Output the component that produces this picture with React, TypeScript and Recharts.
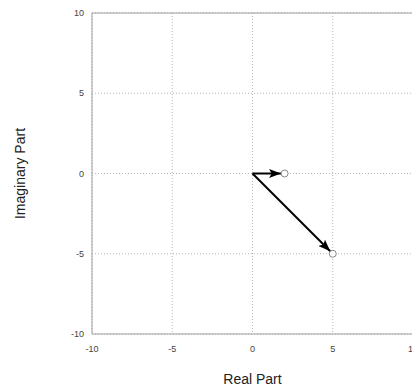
import React from 'react'
import { LineChart, Line, XAxis, YAxis, CartesianGrid, ReferenceLine } from 'recharts'

// complex numbers drawn as vectors from the origin
const vectorA = [{ x: 0, y: 0 }, { x: 2, y: 0 }]
const vectorB = [{ x: 0, y: 0 }, { x: 5, y: -5 }]
const axisTicks = [-10, -5, 0, 5, 10]

const tickStyle = { fontSize: 9, fill: '#444', fontFamily: 'Liberation Sans, Arial, sans-serif' }

const EndDot = (props: any) => {
  const { cx, cy, index } = props
  if (index === 0) return <g key={`d${index}`} />
  return <circle key={`d${index}`} cx={cx} cy={cy} r={3.5} fill="#fff" stroke="#888" strokeWidth={1} />
}

const YTitle = (props: any) => {
  const vb = props.viewBox
  const x = vb.x + 20
  const y = vb.y + vb.height / 2
  return (
    <text x={x} y={y} transform={`rotate(-90, ${x}, ${y})`} textAnchor="middle" dominantBaseline="central"
      fontSize={14} fill="#222" fontFamily="Liberation Sans, Arial, sans-serif">
      Imaginary Part
    </text>
  )
}

export default function App() {
  return (
    <div style={{ position: 'absolute', left: 0, top: 0, width: 412, height: 392, overflow: 'hidden', background: '#fff' }}>
      <svg width={0} height={0} style={{ position: 'absolute' }}>
        <defs>
          <marker id="arrowHead" viewBox="0 0 12 9" markerWidth={12} markerHeight={9} refX={15.5} refY={4.5}
            orient="auto" markerUnits="userSpaceOnUse">
            <path d="M0,0 L12,4.5 L0,9 L2.5,4.5 z" fill="#000" />
          </marker>
        </defs>
      </svg>
      <LineChart width={420} height={392} margin={{ top: 13, right: 7, left: 0, bottom: 0 }}>
        <CartesianGrid stroke="#b8b8b8" strokeDasharray="1 2" />
        <XAxis type="number" dataKey="x" domain={[-10, 10]} ticks={axisTicks} allowDataOverflow
          tickLine={false} stroke="#a0a0a0" tick={tickStyle} tickMargin={6} height={58}
          label={{ value: 'Real Part', position: 'insideBottom', offset: 8, fontSize: 14, fill: '#222',
            fontFamily: 'Liberation Sans, Arial, sans-serif' }} />
        <YAxis type="number" dataKey="y" domain={[-10, 10]} ticks={axisTicks} allowDataOverflow
          tickLine={false} stroke="#a0a0a0" tick={tickStyle} width={92}
          label={{ content: YTitle }} />
        <ReferenceLine y={10} stroke="#a0a0a0" strokeDasharray="" />
        <Line data={vectorA} dataKey="y" stroke="#000" strokeWidth={2} dot={EndDot} activeDot={false}
          markerEnd="url(#arrowHead)" isAnimationActive={false} />
        <Line data={vectorB} dataKey="y" stroke="#000" strokeWidth={2} dot={EndDot} activeDot={false}
          markerEnd="url(#arrowHead)" isAnimationActive={false} />
      </LineChart>
    </div>
  )
}
